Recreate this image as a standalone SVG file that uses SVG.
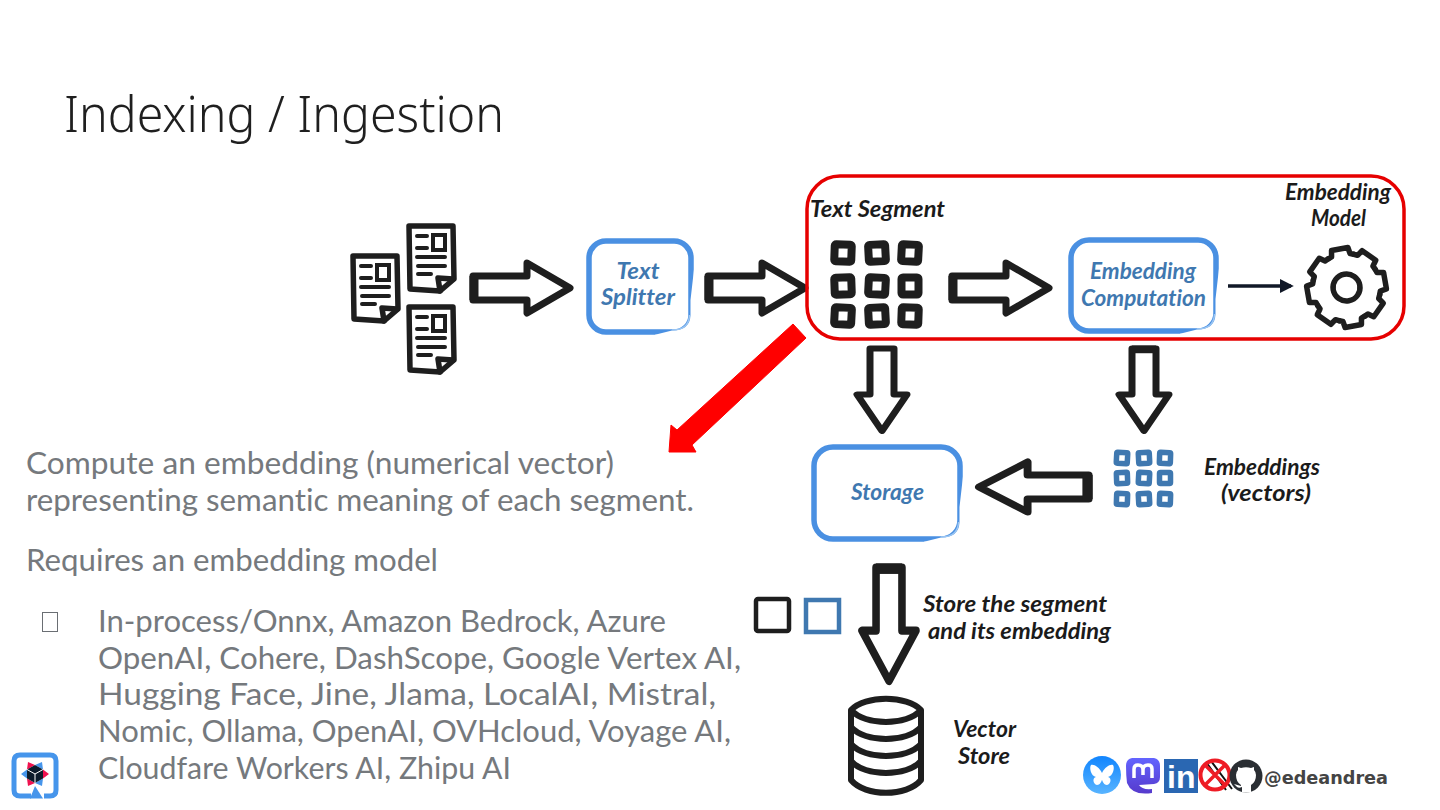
<svg xmlns="http://www.w3.org/2000/svg" width="1440" height="810" viewBox="0 0 1440 810">
<style>
text{font-family:"Lato","Liberation Sans",sans-serif;font-variant-ligatures:none}
.title{font-family:"Noto Sans","Liberation Sans",sans-serif;font-weight:300;font-size:50px;fill:#1f1f1f}
.body{font-size:30px;fill:#75797d;font-weight:400}
.hand{font-family:"Lato","Liberation Sans",sans-serif;font-style:italic;font-weight:700;font-size:23px;fill:#1b1b1b;text-anchor:middle}
.blue{fill:#3f78b0}
.arrow{fill:#fff;stroke:#1e1e1e;stroke-width:7;stroke-linejoin:round}
.box{fill:#fff;stroke:#4a90e2;stroke-width:5.500}
.cell{fill:none;stroke:#1e1e1e;stroke-width:8;stroke-linejoin:round}
.bcell{fill:none;stroke:#3f78b0;stroke-width:5.500;stroke-linejoin:round}
.ln{fill:none;stroke:#1e1e1e;stroke-width:4;stroke-linecap:round}
.thick{fill:none;stroke:#1e1e1e;stroke-width:5.500;stroke-linejoin:round;stroke-linecap:round}
</style>
<defs>
<path id="blockR" d="M3 -12H57V-25L100 0L57 25V12H3Z"/>
<path id="tail" d="M4 -12V12" stroke="#1e1e1e" stroke-width="9" fill="none"/>
<g id="doc">
<path class="thick" d="M2 2L46 2L47 55L33 67L3 65Z"/>
<path class="thick" d="M33 67L31 54L46 55"/>
<path class="ln" d="M10 12H20M10 24H20M10 33H38M11 42H38M11 50H24"/>
<rect x="26" y="11" width="12" height="15" fill="none" stroke="#1e1e1e" stroke-width="4"/>
</g>
<rect id="c" x="-8.500" y="-8.500" width="17" height="17" rx="1.500"/>
<rect id="b" x="-5.500" y="-5.500" width="11" height="11" rx="1"/>
<path id="tooth" d="M-13 -31.400L-9.400 -32.700L-8.300 -39.100L8.300 -39.100L9.400 -32.700L13 -31.400" fill="none" stroke="#1e1e1e" stroke-width="5.500" stroke-linejoin="round" stroke-linecap="round"/>
<g id="boxfade">
<path d="M3.500 -67L-.5 -32V-17Q-1 -1.500 -19 -1.500L-36 2.800V4H9V-67Z" fill="#fff"/>
<path d="M-19 -2Q-2 -2 -1.500 -17" fill="none" stroke="#9cc6f2" stroke-width="1.500"/>
</g>
<marker id="head" viewBox="0 0 10 10" refX="8" refY="5" markerWidth="4" markerHeight="4.500" orient="auto"><path d="M0 0L10 5L0 10Z" fill="#111827"/></marker>
<linearGradient id="bsky" x1="0" y1="0" x2="0" y2="1"><stop offset="0" stop-color="#1185fe"/><stop offset="1" stop-color="#58b4ff"/></linearGradient>
<linearGradient id="masto" x1="0" y1="0" x2="0" y2="1"><stop offset="0" stop-color="#6364ff"/><stop offset="1" stop-color="#563acc"/></linearGradient>
</defs>

<text class="title" x="64" y="132" textLength="440" lengthAdjust="spacingAndGlyphs">Indexing / Ingestion</text>

<g id="connectors">
<g transform="translate(470,288)"><use href="#blockR" class="arrow"/><use href="#tail"/></g>
<g transform="translate(705,288)"><use href="#blockR" class="arrow"/><use href="#tail"/></g>
<g transform="translate(949,288)"><use href="#blockR" class="arrow"/><use href="#tail"/></g>
<use href="#blockR" class="arrow" transform="translate(882,346) rotate(90) scale(.85,1)"/>
<g transform="translate(1144,346) rotate(90) scale(.85,1)"><use href="#blockR" class="arrow"/><use href="#tail"/></g>
<g transform="translate(1092,487) rotate(180) scale(1.13,1)"><use href="#blockR" class="arrow"/><use href="#tail"/></g>
<g transform="translate(889,564) rotate(90) scale(1.17,1.08)"><use href="#blockR" class="arrow"/><use href="#tail"/></g>
<path d="M1228 286H1291" stroke="#111827" stroke-width="3.500" fill="none" marker-end="url(#head)"/>
<polygon id="red-arrow" points="793,324 806,338 692,445 696,452 669,452 671,425 677,430" fill="#ff0000" stroke="#ff0000" stroke-width="1" stroke-linejoin="round"/>
</g>

<g id="documents">
<use href="#doc" x="351" y="254"/>
<use href="#doc" x="407" y="224"/>
<use href="#doc" x="407" y="305"/>
</g>

<g id="text-splitter">
<rect class="box" x="589" y="241" width="102" height="91" rx="17"/>
<use href="#boxfade" transform="translate(691,332)"/>
<text class="hand blue" x="638" y="279" textLength="43" lengthAdjust="spacingAndGlyphs">Text</text>
<text class="hand blue" x="638" y="305" textLength="74" lengthAdjust="spacingAndGlyphs">Splitter</text>
</g>

<g id="embedding-group">
<rect x="807" y="176" width="597" height="163" rx="33" fill="none" stroke="#e60000" stroke-width="3.500"/>
</g>

<g id="text-segment">
<text class="hand" x="877.500" y="217" textLength="135" lengthAdjust="spacingAndGlyphs">Text Segment</text>
<g class="cell">
<use href="#c" transform="translate(843,253) rotate(2)"/><use href="#c" transform="translate(877,253) rotate(-3)"/><use href="#c" transform="translate(910,253) rotate(3)"/>
<use href="#c" transform="translate(843,286) rotate(-2)"/><use href="#c" transform="translate(877,286) rotate(3)"/><use href="#c" transform="translate(910,286)"/>
<use href="#c" transform="translate(843,316) rotate(3)"/><use href="#c" transform="translate(877,316) rotate(-3)"/><use href="#c" transform="translate(910,316) rotate(2)"/>
</g>
</g>

<g id="embedding-computation">
<rect class="box" x="1071" y="240" width="145" height="91" rx="18"/>
<use href="#boxfade" transform="translate(1216,331)"/>
<text class="hand blue" x="1143" y="279" textLength="106" lengthAdjust="spacingAndGlyphs">Embedding</text>
<text class="hand blue" x="1143.500" y="306" textLength="125" lengthAdjust="spacingAndGlyphs">Computation</text>
</g>

<g id="embedding-model">
<text class="hand" x="1338" y="200" textLength="106" lengthAdjust="spacingAndGlyphs">Embedding</text>
<text class="hand" x="1338.500" y="226" textLength="55" lengthAdjust="spacingAndGlyphs">Model</text>
<g transform="translate(1346.500,287.500) rotate(-10)">
<use href="#tooth"/><use href="#tooth" transform="rotate(45)"/><use href="#tooth" transform="rotate(90)"/><use href="#tooth" transform="rotate(135)"/><use href="#tooth" transform="rotate(180)"/><use href="#tooth" transform="rotate(225)"/><use href="#tooth" transform="rotate(270)"/><use href="#tooth" transform="rotate(315)"/>
<circle r="13.500" fill="none" stroke="#1e1e1e" stroke-width="5.500"/>
</g>
</g>

<g id="storage">
<rect class="box" x="814" y="447" width="146" height="92" rx="19"/>
<use href="#boxfade" transform="translate(960,539)"/>
<text class="hand blue" x="887.500" y="500" textLength="73" lengthAdjust="spacingAndGlyphs">Storage</text>
</g>

<g id="embeddings">
<g class="bcell">
<use href="#b" transform="translate(1122,458) rotate(3)"/><use href="#b" transform="translate(1144,458) rotate(-3)"/><use href="#b" transform="translate(1165,458) rotate(2)"/>
<use href="#b" transform="translate(1122,478) rotate(-2)"/><use href="#b" transform="translate(1144,478) rotate(3)"/><use href="#b" transform="translate(1165,478)"/>
<use href="#b" transform="translate(1122,499) rotate(2)"/><use href="#b" transform="translate(1144,499) rotate(-3)"/><use href="#b" transform="translate(1165,499) rotate(2)"/>
</g>
<text class="hand" x="1262" y="475" textLength="116" lengthAdjust="spacingAndGlyphs">Embeddings</text>
<text class="hand" x="1266" y="501" textLength="90" lengthAdjust="spacingAndGlyphs">(vectors)</text>
</g>

<g id="segment-pair">
<rect x="756" y="599" width="33" height="32" rx="2" fill="none" stroke="#1e1e1e" stroke-width="4.500"/>
<rect x="806" y="600" width="33" height="32" fill="none" stroke="#3f78b0" stroke-width="4.500"/>
<text class="hand" x="1015" y="612" textLength="184" lengthAdjust="spacingAndGlyphs">Store the segment</text>
<text class="hand" x="1019.500" y="639" textLength="183" lengthAdjust="spacingAndGlyphs">and its embedding</text>
</g>

<g id="vector-store">
<path d="M851 710C865 695 907 695 921 710V780C907 797 865 797 851 780Z" fill="none" stroke="#1e1e1e" stroke-width="6" stroke-linejoin="round"/>
<path d="M851 710C865 726 907 726 921 710M851 727C865 743 907 743 921 727M851 744C865 760 907 760 921 744M851 761C865 777 907 777 921 761" fill="none" stroke="#1e1e1e" stroke-width="6"/>
<text class="hand" x="984.500" y="737" textLength="63" lengthAdjust="spacingAndGlyphs">Vector</text>
<text class="hand" x="984" y="764" textLength="52" lengthAdjust="spacingAndGlyphs">Store</text>
</g>

<g id="description">
<text class="body" x="26" y="474" textLength="588" lengthAdjust="spacingAndGlyphs">Compute an embedding (numerical vector)</text>
<text class="body" x="26" y="511" textLength="668" lengthAdjust="spacingAndGlyphs">representing semantic meaning of each segment.</text>
<text class="body" x="26" y="571" textLength="412" lengthAdjust="spacingAndGlyphs">Requires an embedding model</text>
<rect x="42.500" y="612.500" width="15" height="19" fill="none" stroke="#6a6e73" stroke-width="1"/>
<text class="body" x="98" y="632" textLength="568" lengthAdjust="spacingAndGlyphs">In-process/Onnx, Amazon Bedrock, Azure</text>
<text class="body" x="98" y="669" textLength="643" lengthAdjust="spacingAndGlyphs">OpenAI, Cohere, DashScope, Google Vertex AI,</text>
<text class="body" x="98" y="705" textLength="618" lengthAdjust="spacingAndGlyphs">Hugging Face, Jine, Jlama, LocalAI, Mistral,</text>
<text class="body" x="98" y="742" textLength="633" lengthAdjust="spacingAndGlyphs">Nomic, Ollama, OpenAI, OVHcloud, Voyage AI,</text>
<text class="body" x="98" y="779" textLength="413" lengthAdjust="spacingAndGlyphs">Cloudfare Workers AI, Zhipu AI</text>
</g>

<g id="quarkus-logo">
<path d="M31 796H20Q14 796 14 790V761Q14 755 20 755H50Q56 755 56 761V790Q56 796 50 796H44" fill="none" stroke="#4695eb" stroke-width="5"/>
<path d="M35 786L30 798.500H43Z" fill="#4695eb"/>
<path d="M28 762L35 765L27 769.500Z M49 774L43 769.500V778.500Z M28 786L27 778.500L35 783Z" fill="#f0124f"/>
<path d="M42 762L35 765L43 769.500Z M21 774L27 769.500V778.500Z M42 786L43 778.500L35 783Z" fill="#4695eb"/>
<path d="M35 765L43 769.500V778.500L35 783L27 778.500V769.500Z" fill="#0d1c2c"/>
<path d="M27 769.500L35 774L43 769.500M35 774V783" fill="none" stroke="#fff" stroke-width="1"/>
</g>

<g id="socials">
<g id="bluesky">
<circle cx="1102" cy="775" r="19" fill="url(#bsky)"/>
<path d="M1102 773C1099 767 1094 764 1091 765C1089 768 1091 776 1096 777C1092 778 1093 784 1097 785C1100 785 1101 782 1102 780C1103 782 1104 785 1107 785C1111 784 1112 778 1108 777C1113 776 1115 768 1113 765C1110 764 1105 767 1102 773Z" fill="#fff"/>
</g>
<g id="mastodon">
<path d="M1132 758H1154Q1160 759 1160 766V777Q1160 783 1154 784L1139 785Q1142 790 1152 789V793Q1132 796 1127 783Q1126 775 1126 766Q1126 759 1132 758Z" fill="url(#masto)"/>
<path d="M1134 778V769Q1134 765 1138 765Q1143 765 1143 770V775M1143 770Q1143 765 1148 765Q1152 765 1152 769V778" fill="none" stroke="#fff" stroke-width="3.500"/>
</g>
<g id="linkedin">
<rect x="1164" y="759" width="34" height="34" fill="#2a67b2"/>
<text x="1167" y="788" style="font-family:'Liberation Sans',sans-serif;font-weight:700;font-size:32px;fill:#fff">in</text>
</g>
<g id="x-crossed">
<path d="M1206 762L1226 790M1211 761L1232 789" stroke="#111" stroke-width="2" fill="none"/>
<circle cx="1215" cy="775" r="14.500" fill="none" stroke="#ee1c25" stroke-width="4"/>
<path d="M1205 765L1225 785M1225 765L1205 785" stroke="#ee1c25" stroke-width="3.500"/>
</g>
<g id="github">
<circle cx="1246" cy="776" r="16.500" fill="#2a2e33"/>
<path d="M1242 792.500V787Q1238 789 1236 786L1234 784L1241 786V785Q1236 782 1236 775Q1236 772 1238 770V767L1241 768Q1246 766.500 1251 768L1254 767V770Q1256 772 1256 775Q1256 782 1251 785V792.500Z" fill="#fff"/>
</g>
<text x="1264" y="784" textLength="124" lengthAdjust="spacingAndGlyphs" style="font-family:'DejaVu Sans',sans-serif;font-weight:700;font-size:18px;fill:#444">@edeandrea</text>
</g>
</svg>
